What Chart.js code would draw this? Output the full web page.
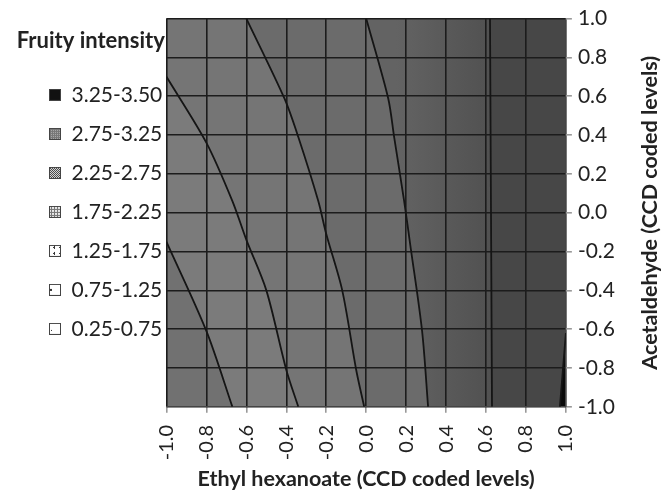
<!DOCTYPE html>
<html>
<head>
<meta charset="utf-8">
<script src="https://cdn.jsdelivr.net/npm/chart.js@4.4.1/dist/chart.umd.min.js"></script>
<style>
    html, body { margin: 0; padding: 0; background: #fff; }
    #caixa { width: 667px; height: 496px; }
</style>
</head>
<body>
<div id="caixa"><canvas id="grafico"></canvas></div>
<script>
// ==========================
// DADOS
// ==========================
const eixoX = [-1.0, 1.0];
const eixoY = [-1.0, 1.0];
const passo = 0.2;

const faixas = ["0.25-0.75", "0.75-1.25", "1.25-1.75", "1.75-2.25", "2.25-2.75", "2.75-3.25", "3.25-3.50"];
const cinzas = ["#717171", "#7b7b7b", "#757575", "#6b6b6b", "#595959", "#474747", "#0a0a0a"];

// contour lines [x, y] (start edge -> bottom edge)
const curva075 = [[-1.00, -0.15], [-0.80, -0.61], [-0.67, -1.00]];
const curva125 = [[-1.00, 0.70], [-0.80, 0.36], [-0.67, 0.06], [-0.60, -0.14], [-0.50, -0.40], [-0.40, -0.81], [-0.34, -1.00]];
const curva175 = [[-0.60, 1.00], [-0.41, 0.59], [-0.34, 0.39], [-0.24, 0.06], [-0.20, -0.11], [-0.12, -0.40], [-0.05, -0.81], [-0.01, -1.00]];
const curva225 = [[0.00, 1.00], [0.11, 0.59], [0.14, 0.39], [0.19, 0.06], [0.22, -0.16], [0.28, -0.61], [0.31, -1.00]];
const curva275 = [[0.62, 1.00], [0.63, -1.00]];
const curva325 = [[1.00, -0.62], [0.97, -1.00]];

const curvas = [curva075, curva125, curva175, curva225, curva275, curva325];

const tituloX = "Ethyl hexanoate (CCD coded levels)";
const tituloY = "Acetaldehyde (CCD coded levels)";
const tituloLegenda = "Fruity intensity";

// ==========================
// REGIÕES (lado alto de cada curva)
// ==========================
function regiao(curva) {
    const [xmin, xmax] = eixoX;
    const [ymin, ymax] = eixoY;
    const pts = curva.map(p => ({ x: p[0], y: p[1] }));
    const ini = curva[0];
    pts.push({ x: xmax, y: ymin });
    if (ini[0] !== xmax) {
        pts.push({ x: xmax, y: ymax });
        if (ini[1] !== ymax) pts.push({ x: xmin, y: ymax });
    }
    return pts;
}

const quadro = [
    { x: eixoX[0], y: eixoY[0] }, { x: eixoX[1], y: eixoY[0] },
    { x: eixoX[1], y: eixoY[1] }, { x: eixoX[0], y: eixoY[1] }
];

// faixa 2.25-2.75 escurece para a direita
function degrade(context) {
    const chart = context.chart;
    if (!chart.chartArea) return cinzas[4];
    const sx = chart.scales.x;
    const g = chart.ctx.createLinearGradient(sx.getPixelForValue(0.15), 0, sx.getPixelForValue(0.62), 0);
    g.addColorStop(0, "#636363");
    g.addColorStop(1, "#515151");
    return g;
}

const datasets = [];

faixas.forEach((f, i) => {
    datasets.push({
        label: f,
        data: i === 0 ? quadro : regiao(curvas[i - 1]),
        showLine: true,
        fill: "shape",
        backgroundColor: i === 4 ? degrade : cinzas[i],
        borderWidth: 0,
        pointRadius: 0,
        order: 20 - i
    });
});

curvas.forEach((c, i) => {
    datasets.push({
        label: "curva" + i,
        data: c.map(p => ({ x: p[0], y: p[1] })),
        showLine: true,
        fill: false,
        borderColor: "#151515",
        borderWidth: 1.8,
        pointRadius: 0,
        tension: 0.3,
        order: 0
    });
});

// ==========================
// ÍCONES DA LEGENDA (quadradinho com textura)
// ==========================
function icone(fundo, tam, desenha) {
    const t = document.createElement("canvas");
    t.width = tam;
    t.height = tam;
    const gt = t.getContext("2d");
    gt.fillStyle = fundo;
    gt.fillRect(0, 0, tam, tam);
    gt.fillStyle = "#333";
    desenha(gt);

    // icon canvas: the box sits at the right end, so it lines up with the reference
    const c = document.createElement("canvas");
    c.width = 28;
    c.height = 12;
    const g = c.getContext("2d");
    g.fillStyle = g.createPattern(t, "repeat");
    g.fillRect(16, 0, 12, 12);
    g.strokeStyle = "#444";
    g.lineWidth = 1;
    g.strokeRect(16.5, 0.5, 11, 11);
    return c;
}

const icones = [
    icone("#fff", 12, g => g.fillRect(6, 7, 1, 1)),
    icone("#fff", 12, g => g.fillRect(5, 5, 2, 2)),
    icone("#fff", 6, g => { g.fillRect(2, 2, 2, 1); g.fillRect(3, 1, 1, 3); }),
    icone("#e8e8e8", 3, g => { g.fillStyle = "#777"; g.fillRect(0, 0, 3, 1); g.fillRect(0, 0, 1, 3); }),
    icone("#ddd", 2, g => { g.fillStyle = "#444"; g.fillRect(0, 0, 1, 1); g.fillRect(1, 1, 1, 1); }),
    icone("#777", 2, g => { g.fillStyle = "#aaa"; g.fillRect(0, 0, 1, 1); }),
    icone("#111", 2, () => {})
];

// ==========================
// TÍTULO DO EIXO Y (lido de baixo para cima)
// ==========================
const pluginTituloY = {
    id: "tituloY",
    afterDraw(chart) {
        const { ctx, chartArea } = chart;
        ctx.save();
        ctx.translate(chart.width - 17, (chartArea.top + chartArea.bottom) / 2);
        ctx.rotate(-Math.PI / 2);
        ctx.font = "bold 21.5px Lato";
        ctx.fillStyle = "#222";
        ctx.textAlign = "center";
        ctx.textBaseline = "middle";
        ctx.fillText(tituloY, 0, 0);
        ctx.restore();
    }
};

// ==========================
// GRÁFICO
// ==========================
Chart.defaults.font.family = "Lato, sans-serif";
Chart.defaults.color = "#222";

const rotulo = v => (Math.abs(v) < 1e-9 ? "0.0" : v.toFixed(1));

new Chart(document.getElementById("grafico"), {
    type: "scatter",
    data: { datasets },
    options: {
        responsive: true,
        maintainAspectRatio: false,
        animation: false,
        layout: { padding: { left: 15, top: 6, right: 46, bottom: 4 } },
        plugins: {
            tooltip: { enabled: false },
            filler: { drawTime: "beforeDraw" }, // shading under the grid
            legend: {
                position: "left",
                align: "start",
                title: {
                    display: true,
                    text: tituloLegenda,
                    position: "center",
                    color: "#222",
                    font: { size: 22, weight: "bold" },
                    padding: { top: 24, bottom: 10 }
                },
                labels: {
                    usePointStyle: true,
                    pointStyleWidth: 28,
                    boxHeight: 12,
                    padding: 18,
                    color: "#222",
                    font: { size: 21 },
                    generateLabels: () => faixas.map((f, i) => ({
                        text: f,
                        pointStyle: icones[i],
                        fillStyle: cinzas[i],
                        strokeStyle: "#444",
                        lineWidth: 0,
                        hidden: false,
                        datasetIndex: i
                    })).reverse()
                }
            }
        },
        scales: {
            x: {
                type: "linear",
                min: eixoX[0],
                max: eixoX[1],
                grid: { color: "#1c1c1c", lineWidth: 1.6, tickColor: "#999", tickLength: 6 },
                border: { color: "#444", width: 1 },
                ticks: {
                    stepSize: passo,
                    minRotation: 90,
                    maxRotation: 90,
                    padding: 12,
                    font: { size: 20 },
                    callback: rotulo
                },
                title: {
                    display: true,
                    text: tituloX,
                    font: { size: 21.5, weight: "bold" },
                    padding: { top: -6, bottom: 0 }
                }
            },
            y: {
                type: "linear",
                position: "right",
                min: eixoY[0],
                max: eixoY[1],
                grid: { color: "#1c1c1c", lineWidth: 1.6, tickColor: "#999", tickLength: 6 },
                border: { color: "#444", width: 1 },
                ticks: {
                    stepSize: passo,
                    padding: 6,
                    font: { size: 21 },
                    callback: rotulo
                }
            }
        }
    },
    plugins: [pluginTituloY]
});
</script>
</body>
</html>
